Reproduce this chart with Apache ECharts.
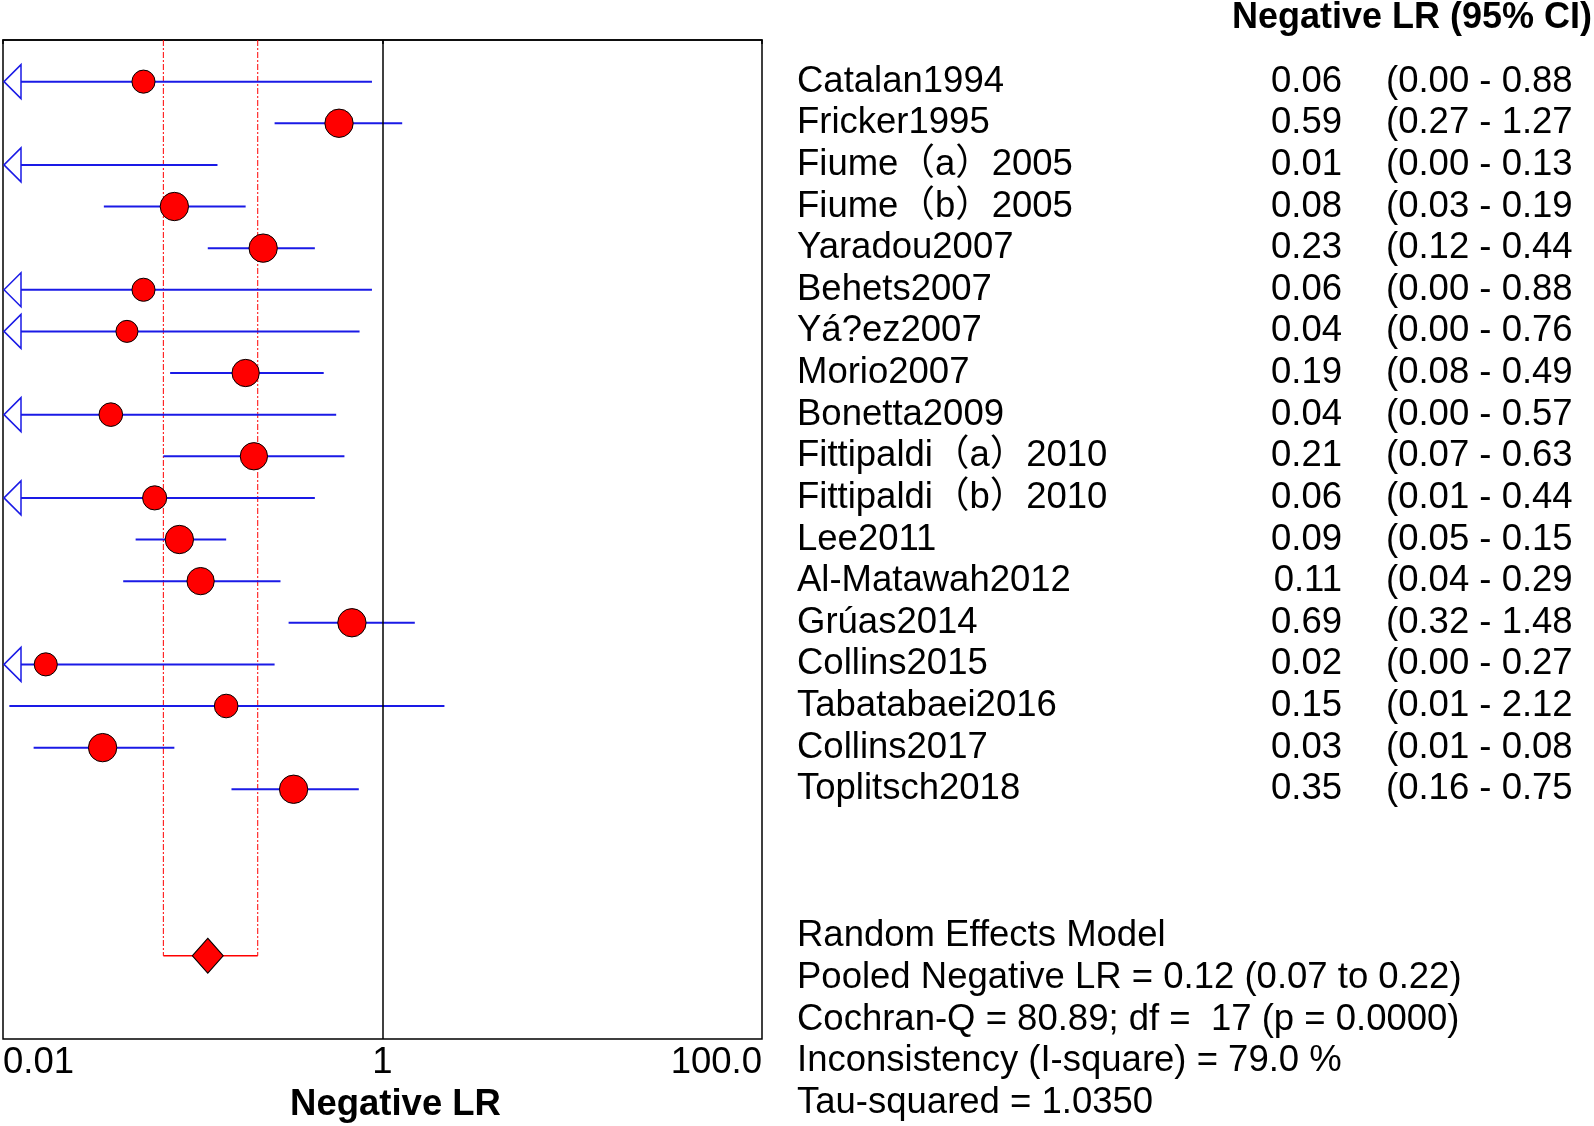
<!DOCTYPE html>
<html><head><meta charset="utf-8">
<script src="https://cdn.jsdelivr.net/npm/echarts@6/dist/echarts.min.js"></script>
<style>html,body{margin:0;padding:0;background:#fff}#c{width:1594px;height:1126px}</style>
</head><body><div id="c"></div>
<script>
const studies = ['Catalan1994','Fricker1995','Fiume（a）2005','Fiume（b）2005','Yaradou2007','Behets2007','Yá?ez2007','Morio2007','Bonetta2009','Fittipaldi（a）2010','Fittipaldi（b）2010','Lee2011','Al-Matawah2012','Grúas2014','Collins2015','Tabatabaei2016','Collins2017','Toplitsch2018'];
const lrText = ['0.06','0.59','0.01','0.08','0.23','0.06','0.04','0.19','0.04','0.21','0.06','0.09','0.11','0.69','0.02','0.15','0.03','0.35'];
const ciText = ['(0.00 - 0.88','(0.27 - 1.27','(0.00 - 0.13','(0.03 - 0.19','(0.12 - 0.44','(0.00 - 0.88','(0.00 - 0.76','(0.08 - 0.49','(0.00 - 0.57','(0.07 - 0.63','(0.01 - 0.44','(0.05 - 0.15','(0.04 - 0.29','(0.32 - 1.48','(0.00 - 0.27','(0.01 - 2.12','(0.01 - 0.08','(0.16 - 0.75'];
// point estimates as read from the plotted marks
const lrPoint = [0.055,0.59,0.006,0.08,0.235,0.055,0.045,0.19,0.037,0.21,0.063,0.085,0.11,0.69,0.0168,0.15,0.0335,0.34];
const ciLower = [0,0.27,0,0.034,0.12,0,0,0.076,0,0.07,0,0.05,0.043,0.32,0,0.0108,0.0145,0.16];
const ciUpper = [0.88,1.27,0.135,0.19,0.44,0.88,0.757,0.49,0.57,0.63,0.44,0.15,0.29,1.48,0.27,2.12,0.08,0.75];
const weights = [2.2,2.7,2.2,2.7,2.7,2.2,2.1,2.6,2.25,2.6,2.3,2.7,2.6,2.7,2.2,2.25,2.7,2.7];
const pooledEst = 0.12, pooledLower = 0.07, pooledUpper = 0.22;
const pooledRow = 22;
const summaryLines = ['Random Effects Model','Pooled Negative LR = 0.12 (0.07 to 0.22)','Cochran-Q = 80.89; df =  17 (p = 0.0000)','Inconsistency (I-square) = 79.0 %','Tau-squared = 1.0350'];
const xTicks = [0.01, 1, 100];
const xTickLabels = ['0.01','1','100.0'];
const headerText = 'Negative LR (95% CI)';
const xName = 'Negative LR';

const FONT = '"Liberation Sans", Arial, "Noto Sans CJK SC", sans-serif';
const BLUE = '#1a1ae6';
const chart = echarts.init(document.getElementById('c'));
const xMin = 0.01, xMax = 100;

function labelAxis(formatter, margin, align){
  return {type:'value', position:'right', min:0, max:24, interval:1, inverse:true,
    axisLine:{show:false}, axisTick:{show:false}, splitLine:{show:false},
    axisLabel:{show:true, margin:margin, align:align, formatter:formatter, fontSize:36.5, fontFamily:FONT, color:'#000'}};
}

const option = {
  animation:false,
  backgroundColor:'#fff',
  title:{text:headerText, left:1232, top:0, padding:0,
    textStyle:{fontSize:36, fontWeight:'bold', fontFamily:FONT, color:'#000'}},
  grid:{left:3, right:832, top:40, bottom:87, show:true, borderColor:'#000', borderWidth:1.5, backgroundColor:'#fff', containLabel:false, outerBoundsMode:'none'},
  xAxis:{type:'log', logBase:10, min:xMin, max:xMax,
    axisLine:{show:true, lineStyle:{color:'#000', width:1.5}},
    splitLine:{show:false}, minorTick:{show:false},
    axisTick:{show:true, length:4, customValues:xTicks, lineStyle:{color:'#000', width:1.5}},
    axisLabel:{customValues:xTicks, margin:6, fontSize:36.5, fontFamily:FONT, color:'#000',
      alignMinLabel:'left', alignMaxLabel:'right',
      formatter:(v)=>{for(let i=0;i<xTicks.length;i++){if(Math.abs(Math.log10(v)-Math.log10(xTicks[i]))<1e-6) return xTickLabels[i];} return '';}},
    name:xName, nameLocation:'middle', nameGap:48,
    nameTextStyle:{fontSize:36.5, fontWeight:'bold', fontFamily:FONT, color:'#000', padding:[0,0,0,26]}},
  yAxis:[
    {type:'value', min:0, max:24, interval:1, inverse:true, axisLine:{show:false}, axisTick:{show:false}, axisLabel:{show:false}, splitLine:{show:false}},
    labelAxis((v)=>studies[v-1]||'', 35, 'left'),
    labelAxis((v)=>lrText[v-1]||'', 580, 'right'),
    labelAxis((v)=>ciText[v-1]||'', 624, 'left')
  ],
  graphic: summaryLines.map((t,i)=>({type:'text', left:797, top:918+i*41.7,
    style:{text:t, fontSize:36.5, fontFamily:FONT, fill:'#000'}})),
  series:[
    {type:'custom', xAxisIndex:0, yAxisIndex:0, z:2,
      encode:{x:[0,1], y:2},
      data: studies.map((s,i)=>[ciLower[i], ciUpper[i], i+1]),
      renderItem:(params, api)=>{
        const lo=api.value(0), hi=api.value(1), row=api.value(2);
        const cs=params.coordSys;
        const y=api.coord([1,row])[1];
        const xHi=api.coord([hi,row])[0];
        const children=[];
        let xLo;
        if(!(lo>=xMin)){
          const x0=cs.x+1;
          children.push({type:'polygon', shape:{points:[[x0,y],[x0+17,y-17],[x0+17,y+17]]},
            style:{fill:'#fff', stroke:BLUE, lineWidth:1.5}});
          xLo=x0+17;
        } else xLo=api.coord([lo,row])[0];
        children.unshift({type:'line', shape:{x1:xLo,y1:y,x2:xHi,y2:y}, style:{stroke:BLUE, lineWidth:2}});
        return {type:'group', children};
      }},
    {type:'custom', xAxisIndex:0, yAxisIndex:0, z:1,
      encode:{x:[0,1], y:2},
      data:[[pooledLower, pooledUpper, pooledRow]],
      renderItem:(params, api)=>{
        const cs=params.coordSys;
        const p1=api.coord([api.value(0), api.value(2)]);
        const p2=api.coord([api.value(1), api.value(2)]);
        const st={stroke:'#ff0000', lineWidth:1, lineDash:[6,2,2,2]};
        return {type:'group', children:[
          {type:'line', shape:{x1:p1[0],y1:cs.y,x2:p1[0],y2:p1[1]}, style:st},
          {type:'line', shape:{x1:p2[0],y1:cs.y,x2:p2[0],y2:p2[1]}, style:st},
          {type:'line', shape:{x1:p1[0],y1:p1[1],x2:p2[0],y2:p2[1]}, style:{stroke:'#ff0000', lineWidth:1.5}}
        ]};
      }},
    {type:'scatter', xAxisIndex:0, yAxisIndex:0, z:3, clip:true,
      data: lrPoint.map((v,i)=>[v, i+1, weights[i]]),
      symbol:'circle', symbolSize:(val)=>val[2]*10.5,
      itemStyle:{color:'#ff0000', borderColor:'#000', borderWidth:1, opacity:1},
      markLine:{silent:true, symbol:'none', label:{show:false},
        lineStyle:{color:'#000', width:1.5, type:'solid'}, data:[{xAxis:1}]}},
    {type:'scatter', xAxisIndex:0, yAxisIndex:0, z:3,
      data:[[pooledEst, pooledRow]], symbol:'diamond', symbolSize:[31,35],
      itemStyle:{color:'#ff0000', borderColor:'#000', borderWidth:1, opacity:1}}
  ]
};
chart.setOption(option);
</script></body></html>
